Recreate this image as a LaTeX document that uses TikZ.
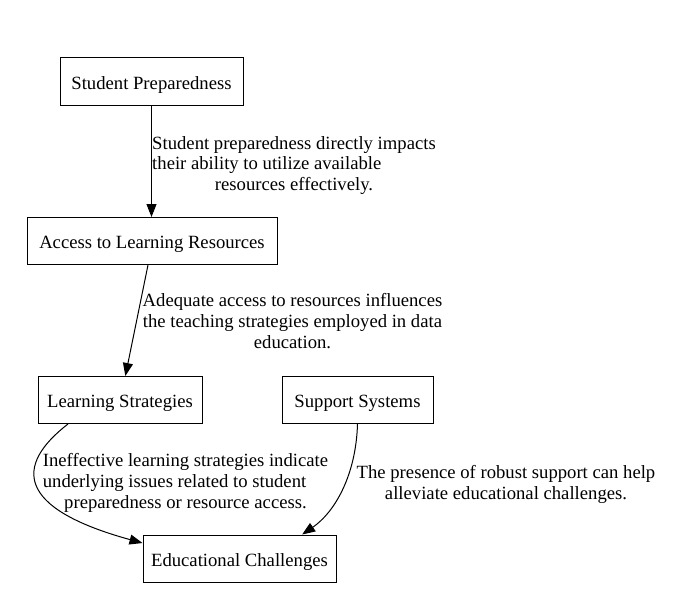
\documentclass[tikz,border=0pt]{standalone}
\usepackage{fontspec}
\setmainfont{Liberation Serif}
\usetikzlibrary{arrows.meta}
\newlength\lblw
\newcommand\flushwith[2]{\settowidth{\lblw}{#1}\makebox[\lblw][l]{#2}}
\begin{document}
\begin{tikzpicture}[x=0.75pt,y=-0.75pt,
  box/.style={draw,line width=0.75pt,rectangle,inner sep=0pt,minimum height=35.25pt,text height=11.7pt,text depth=0pt,font=\fontsize{14}{15.75}\selectfont},
  lbl/.style={inner sep=0pt,align=center,font=\fontsize{14}{15.5}\selectfont},
  conn/.style={line width=0.75pt,-{Triangle[length=9.75pt,width=7.5pt]}}]
\useasboundingbox (0,0) rectangle (688,610);
\node[box,minimum width=137.25pt] (sp) at (151.5,81.5) {Student Preparedness};
\node[box,minimum width=187.5pt] (alr) at (152,241) {Access to Learning Resources};
\node[box,minimum width=123pt] (ls) at (120,400) {Learning Strategies};
\node[box,minimum width=113.25pt] (ss) at (357.5,400) {Support Systems};
\node[box,minimum width=144.75pt] (ec) at (239.5,558.5) {Educational Challenges};

\node[lbl] (l1) at (294,165.5) {Student preparedness directly impacts\\\flushwith{Student preparedness directly impacts}{their ability to utilize available}\\resources effectively.};
\node[lbl] (l2) at (292.5,321) {Adequate access to resources influences\\the teaching strategies employed in data\\education.};
\node[lbl] (l3) at (185.5,483) {Ineffective learning strategies indicate\\\flushwith{Ineffective learning strategies indicate}{underlying issues related to student}\\preparedness or resource access.};
\node[lbl] (l4) at (506,484.5) {The presence of robust support can help\\alleviate educational challenges.};

\draw[conn] (sp.south) -- (sp.south |- alr.north);
\draw[conn] ([xshift=-3pt]alr.south) -- ([xshift=4pt]ls.north);
\draw[conn] ([xshift=-39pt]ls.south) .. controls (15,465) and (15,508) .. ([yshift=11.6pt]ec.west);
\draw[conn] (ss.south) .. controls (356,475) and (335,512) .. ([xshift=47pt]ec.north);
\end{tikzpicture}
\end{document}
